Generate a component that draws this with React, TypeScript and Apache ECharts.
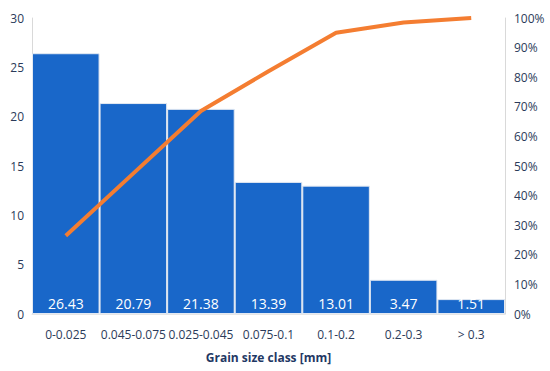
import React, { useEffect, useRef } from "react";
import * as echarts from "echarts";

const categories = ["0-0.025", "0.045-0.075", "0.025-0.045", "0.075-0.1", "0.1-0.2", "0.2-0.3", "> 0.3"];
const barValues = [26.43, 21.38, 20.79, 13.39, 13.01, 3.47, 1.51];
const barLabels = ["26.43", "20.79", "21.38", "13.39", "13.01", "3.47", "1.51"];
const cumulativePct = [26.43, 47.5, 68.6, 82.0, 95.0, 98.5, 100];
const leftTicks = { min: 0, max: 30, interval: 5 };
const rightTicks = { min: 0, max: 100, interval: 10 };

export default function App() {
  const ref = useRef<HTMLDivElement>(null);
  useEffect(() => {
    if (!ref.current) return;
    const chart = echarts.init(ref.current, null, { renderer: "svg" });
    const axisText = { color: "#2b3b5a", fontSize: 12, fontFamily: "Open Sans" };
    chart.setOption({
      animation: false,
      grid: { left: 32, right: 45, top: 18, bottom: 57 },
      xAxis: {
        type: "category",
        data: categories,
        axisTick: { show: false },
        axisLine: { show: true, lineStyle: { color: "#e6e6e6" } },
        axisLabel: { ...axisText, margin: 14, interval: 0 },
        name: "Grain size class [mm]",
        nameLocation: "middle",
        nameGap: 37,
        nameTextStyle: { color: "#1f3864", fontSize: 12, fontWeight: "bold", fontFamily: "Open Sans" },
      },
      yAxis: [
        {
          type: "value",
          ...leftTicks,
          splitLine: { show: false },
          axisLine: { show: true, lineStyle: { color: "#d9d9d9" } },
          axisTick: { show: false },
          axisLabel: { ...axisText, margin: 8 },
        },
        {
          type: "value",
          ...rightTicks,
          position: "right",
          splitLine: { show: false },
          axisLine: { show: true, lineStyle: { color: "#d9d9d9" } },
          axisTick: { show: false },
          axisLabel: { ...axisText, margin: 9, formatter: "{value}%" },
        },
      ],
      series: [
        {
          type: "bar",
          data: barValues,
          barCategoryGap: "0%",
          itemStyle: { color: "#1967c9", borderColor: "#e3e9f2", borderWidth: 1 },
          label: {
            show: true,
            position: "insideBottom",
            distance: 4,
            color: "#ffffff",
            fontSize: 14,
            fontFamily: "Open Sans",
            formatter: (p: any) => barLabels[p.dataIndex],
          },
        },
        {
          type: "line",
          yAxisIndex: 1,
          data: cumulativePct,
          symbol: "none",
          lineStyle: { color: "#f47d31", width: 4 },
        },
      ],
    });
    return () => chart.dispose();
  }, []);
  return <div ref={ref} style={{ width: 550, height: 371, position: "absolute", left: 0, top: 0 }} />;
}
